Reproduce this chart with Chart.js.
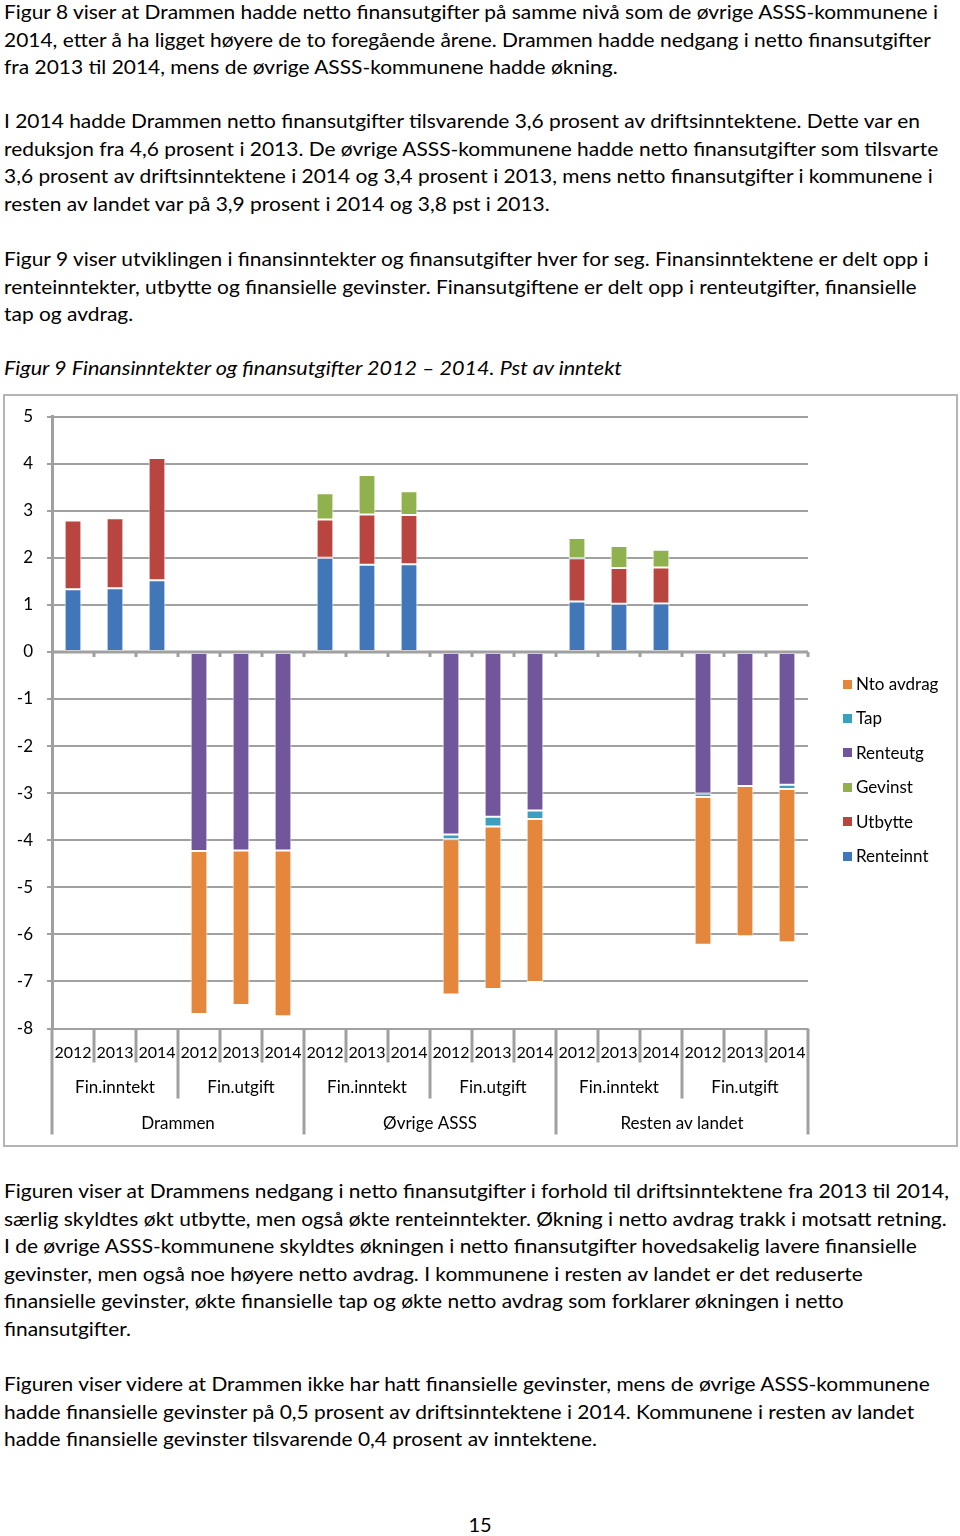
<!DOCTYPE html>
<html><head><meta charset="utf-8">
<script src="https://cdn.jsdelivr.net/npm/chart.js@4.4.0/dist/chart.umd.min.js"></script>
<style>
html,body{margin:0;padding:0;background:#fff;}
body{width:960px;height:1536px;position:relative;overflow:hidden;font-family:Lato,"Noto Sans",sans-serif;color:#000;}
.t{position:absolute;left:4px;font-size:20px;line-height:27.5px;white-space:nowrap;transform-origin:0 0;}
.t span{white-space:nowrap}
.cap{font-style:italic;}
#frame{position:absolute;left:3px;top:394px;width:951px;height:749px;border:2px solid #b4b4b4;}
#frame canvas{position:absolute;left:0;top:0;}
#legend{position:absolute;left:838px;top:667px;font-size:17px;line-height:34.4px;}
#legend .it{display:flex;align-items:center;height:34.4px;white-space:nowrap;}
#legend .sw{width:9px;height:9px;margin-right:4px;margin-left:5px;}
#pg{position:absolute;left:0;width:960px;text-align:center;top:1511px;font-size:20px;line-height:27.5px;}
</style>
</head><body>
<div class="t" style="top:-2px"><span id="l1">Figur 8 viser at Drammen hadde netto finansutgifter på samme nivå som de øvrige ASSS-kommunene i</span><br>2014, etter å ha ligget høyere de to foregående årene. Drammen hadde nedgang i netto finansutgifter<br>fra 2013 til 2014, mens de øvrige ASSS-kommunene hadde økning.</div>
<div class="t" style="top:107px">I 2014 hadde Drammen netto finansutgifter tilsvarende 3,6 prosent av driftsinntektene. Dette var en<br>reduksjon fra 4,6 prosent i 2013. De øvrige ASSS-kommunene hadde netto finansutgifter som tilsvarte<br>3,6 prosent av driftsinntektene i 2014 og 3,4 prosent i 2013, mens netto finansutgifter i kommunene i<br>resten av landet var på 3,9 prosent i 2014 og 3,8 pst i 2013.</div>
<div class="t" style="top:245px">Figur 9 viser utviklingen i finansinntekter og finansutgifter hver for seg. Finansinntektene er delt opp i<br>renteinntekter, utbytte og finansielle gevinster. Finansutgiftene er delt opp i renteutgifter, finansielle<br>tap og avdrag.</div>
<div class="t cap" id="cap" style="top:354px"><span id="capt">Figur 9 Finansinntekter og finansutgifter 2012 – 2014. Pst av inntekt</span></div>
<div id="frame"><canvas id="c" width="951" height="749" style="width:951px;height:749px"></canvas></div>
<div id="legend"></div>
<div class="t" style="top:1177px">Figuren viser at Drammens nedgang i netto finansutgifter i forhold til driftsinntektene fra 2013 til 2014,<br>særlig skyldtes økt utbytte, men også økte renteinntekter. Økning i netto avdrag trakk i motsatt retning.<br>I de øvrige ASSS-kommunene skyldtes økningen i netto finansutgifter hovedsakelig lavere finansielle<br>gevinster, men også noe høyere netto avdrag. I kommunene i resten av landet er det reduserte<br>finansielle gevinster, økte finansielle tap og økte netto avdrag som forklarer økningen i netto<br>finansutgifter.</div>
<div class="t" style="top:1370px">Figuren viser videre at Drammen ikke har hatt finansielle gevinster, mens de øvrige ASSS-kommunene<br>hadde finansielle gevinster på 0,5 prosent av driftsinntektene i 2014. Kommunene i resten av landet<br>hadde finansielle gevinster tilsvarende 0,4 prosent av inntektene.</div>
<div id="pg">15</div>
<script>
// ---- data ----
const years = ['2012','2013','2014','2012','2013','2014','2012','2013','2014','2012','2013','2014','2012','2013','2014','2012','2013','2014'];
const groups = ['Fin.inntekt','Fin.utgift','Fin.inntekt','Fin.utgift','Fin.inntekt','Fin.utgift'];
const regions = ['Drammen','Øvrige ASSS','Resten av landet'];
const yTickMin = -8, yTickMax = 5, yTickStep = 1;

const renteinnt = [1.33,1.35,1.52, null,null,null, 2.00,1.85,1.86, null,null,null, 1.07,1.02,1.03, null,null,null];
const utbytte   = [1.46,1.49,2.60, null,null,null, 0.81,1.07,1.05, null,null,null, 0.92,0.76,0.76, null,null,null];
const gevinst   = [null,null,null, null,null,null, 0.56,0.84,0.50, null,null,null, 0.43,0.47,0.38, null,null,null];
const renteutg  = [null,null,null, -4.23,-4.22,-4.22, null,null,null, -3.88,-3.50,-3.37, null,null,null, -3.01,-2.85,-2.82];
const tap       = [null,null,null, null,null,null, null,null,null, -0.10,-0.21,-0.18, null,null,null, -0.07,null,-0.09];
const ntoAvdrag = [null,null,null, -3.46,-3.28,-3.52, null,null,null, -3.30,-3.45,-3.46, null,null,null, -3.14,-3.19,-3.26];

// ---- text fit (Calibri-like width) ----
(function(){
  const w = document.getElementById('l1').getBoundingClientRect().width;
  const k = 934 / w;
  document.querySelectorAll('.t').forEach(e => { e.style.transform = 'scaleX(' + k + ')'; });
  const cw = document.getElementById('capt').getBoundingClientRect().width / k;
  document.getElementById('cap').style.transform = 'scaleX(' + (618 / cw) + ')';
})();

const AX = '#a0a0a0';
const FONT = 'Lato, "Noto Sans", sans-serif';

const ds = (label, data, color) => ({label, data, backgroundColor: color, borderColor: '#ffffff', borderWidth: 1, borderSkipped: false, barPercentage: 0.4, categoryPercentage: 1.0, stack: 's'});

const xlabels = {
  id: 'xlabels',
  afterDatasetsDraw(chart){
    const {ctx, chartArea: a, scales: {x, y}} = chart;
    const step = x.getPixelForValue(1) - x.getPixelForValue(0);
    const y0 = y.getPixelForValue(0);
    ctx.save();
    ctx.strokeStyle = AX; ctx.lineWidth = 3;
    ctx.beginPath(); ctx.moveTo(a.left, y0); ctx.lineTo(a.right, y0); ctx.stroke();
    ctx.beginPath();
    for (let i = 1; i <= years.length; i++) {
      const bx = x.getPixelForValue(i - 1) + step / 2;
      ctx.moveTo(bx, y0); ctx.lineTo(bx, y0 + 5);
    }
    ctx.stroke();
    ctx.restore();
  },
  afterDraw(chart){
    const {ctx, chartArea: a, scales: {x, y}} = chart;
    const step = x.getPixelForValue(1) - x.getPixelForValue(0);
    const base = y.getPixelForValue(yTickMin);
    ctx.save();
    ctx.strokeStyle = AX; ctx.lineWidth = 3;
    ctx.beginPath();
    for (let i = 0; i <= years.length; i++) {
      const bx = x.getPixelForValue(0) - step / 2 + i * step;
      const len = i % 6 === 0 ? 106 : (i % 3 === 0 ? 70 : 34);
      ctx.moveTo(bx, base); ctx.lineTo(bx, base + len);
    }
    ctx.stroke();
    ctx.fillStyle = '#000';
    ctx.textAlign = 'center'; ctx.textBaseline = 'middle';
    ctx.font = '16px ' + FONT;
    years.forEach((t, i) => ctx.fillText(t, x.getPixelForValue(i), base + 24));
    ctx.font = '17px ' + FONT;
    groups.forEach((t, i) => ctx.fillText(t, x.getPixelForValue(i * 3 + 1), base + 59));
    regions.forEach((t, i) => {
      const cx = (x.getPixelForValue(i * 6 + 2) + x.getPixelForValue(i * 6 + 3)) / 2;
      ctx.fillText(t, cx, base + 95);
    });
    ctx.restore();
  }
};

const chart = new Chart(document.getElementById('c'), {
  type: 'bar',
  data: {
    labels: years,
    datasets: [
      ds('Renteinnt', renteinnt, '#4177b8'),
      ds('Utbytte', utbytte, '#b94541'),
      ds('Gevinst', gevinst, '#8fb24f'),
      ds('Renteutg', renteutg, '#71569b'),
      ds('Tap', tap, '#3d9fc0'),
      ds('Nto avdrag', ntoAvdrag, '#e4873c')
    ]
  },
  options: {
    responsive: false,
    animation: false,
    devicePixelRatio: 1,
    layout: {padding: {left: 0, top: 20.5, right: 148, bottom: 116.5}},
    plugins: {legend: {display: false}, tooltip: {enabled: false}},
    scales: {
      x: {display: false, stacked: true, offset: true},
      y: {
        stacked: true, min: yTickMin, max: yTickMax,
        afterFit(s){ s.width = 47; s.paddingTop = 0; s.paddingBottom = 0; },
        ticks: {stepSize: yTickStep, color: '#000', padding: 14, font: {family: FONT, size: 17}},
        grid: {color: AX, lineWidth: 2, tickLength: 5, drawTicks: true},
        border: {display: true, color: AX, width: 3}
      }
    }
  },
  plugins: [xlabels]
});

// HTML legend from datasets, reversed like the reference
const lg = document.getElementById('legend');
chart.data.datasets.slice().reverse().forEach(d => {
  const it = document.createElement('div'); it.className = 'it';
  const sw = document.createElement('span'); sw.className = 'sw'; sw.style.background = d.backgroundColor;
  const tx = document.createElement('span'); tx.textContent = d.label;
  it.appendChild(sw); it.appendChild(tx); lg.appendChild(it);
});
</script>
</body></html>
